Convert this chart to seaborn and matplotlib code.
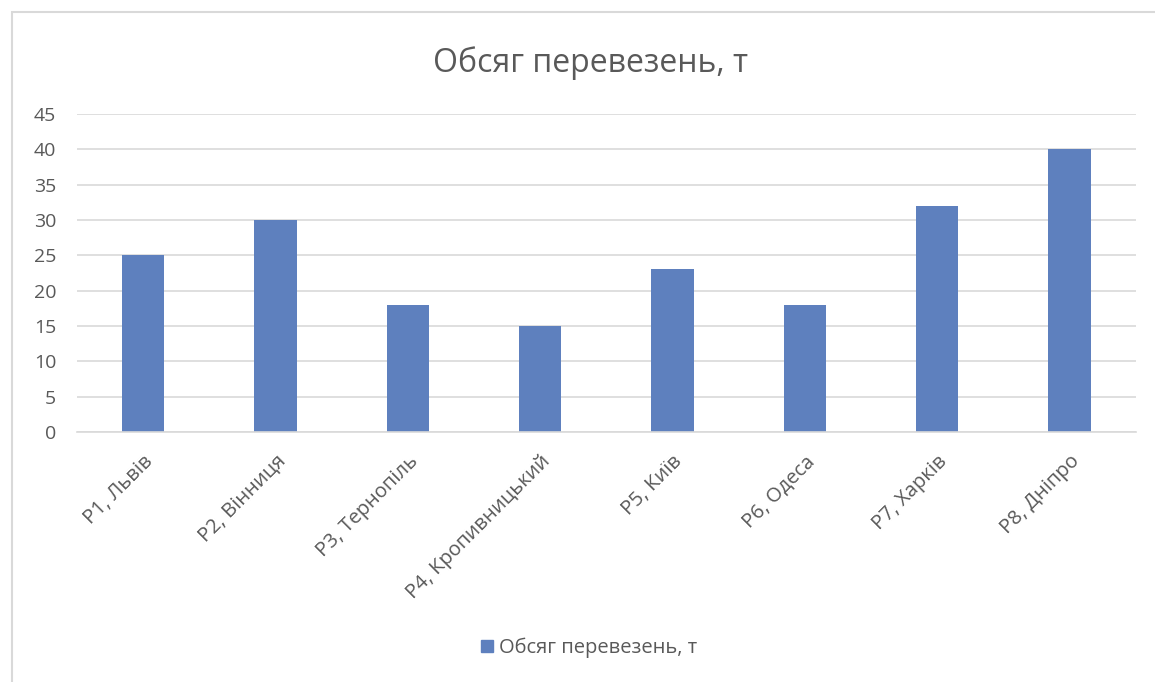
import matplotlib
matplotlib.use("Agg")
import matplotlib.pyplot as plt
import seaborn as sns
import pandas as pd
from matplotlib.patches import Rectangle, Patch

categories = ["P1, Львів", "P2, Вінниця", "P3, Тернопіль", "P4, Кропивницький",
              "P5, Київ", "P6, Одеса", "P7, Харків", "P8, Дніпро"]
values = [25, 30, 18, 15, 23, 18, 32, 40]
series_name = "Обсяг перевезень, т"
yticks = [0, 5, 10, 15, 20, 25, 30, 35, 40, 45]

sns.set_theme(style="white")
plt.rcParams['font.family'] = ['Open Sans', 'DejaVu Sans']

df = pd.DataFrame({"cat": categories, "val": values, "series": series_name})

fig = plt.figure(figsize=(11.55, 6.82), dpi=100)
ax = fig.add_axes([0.0667, 0.3666, 0.9165, 0.4664])

bar_color = "#5E80BE"
sns.barplot(data=df, x="cat", y="val", hue="series", palette=[bar_color],
            width=0.32, ax=ax, saturation=1, legend=False, linewidth=0)

ax.set_ylim(0, 45)
ax.set_xlim(-0.5, len(categories) - 0.5)
ax.set_yticks(yticks)
ax.set_yticklabels([str(t) for t in yticks], fontsize=14, color="#595959")
ax.yaxis.grid(True, color="#D9D9D9", linewidth=1.2)
ax.set_axisbelow(True)
for s in ["top", "right", "left"]:
    ax.spines[s].set_visible(False)
ax.spines["bottom"].set_color("#D9D9D9")
ax.spines["bottom"].set_linewidth(1.2)
ax.tick_params(axis="y", length=0, pad=15)
ax.tick_params(axis="x", length=0, pad=14)
ax.set_xticks(range(len(categories)))
ax.set_xticklabels(categories, rotation=45, ha="right", rotation_mode="anchor",
                   fontsize=14.5, color="#595959")
ax.set_xlabel("")
ax.set_ylabel("")

fig.text(0.511, 0.907, series_name, ha="center", va="center", fontsize=23, color="#595959")

fig.legend(handles=[Patch(color=bar_color, label=series_name)], loc="center",
           bbox_to_anchor=(0.51, 0.05), frameon=False, fontsize=14.5,
           handlelength=0.6, handleheight=0.6, handletextpad=0.3, labelcolor="#595959")

fig.patches.append(Rectangle((12/1155, -0.02), 1.1, 1 - 12/682 + 0.02, transform=fig.transFigure,
                             fill=False, edgecolor="#D9D9D9", linewidth=1.5))

fig.savefig("out.png", dpi=100)
